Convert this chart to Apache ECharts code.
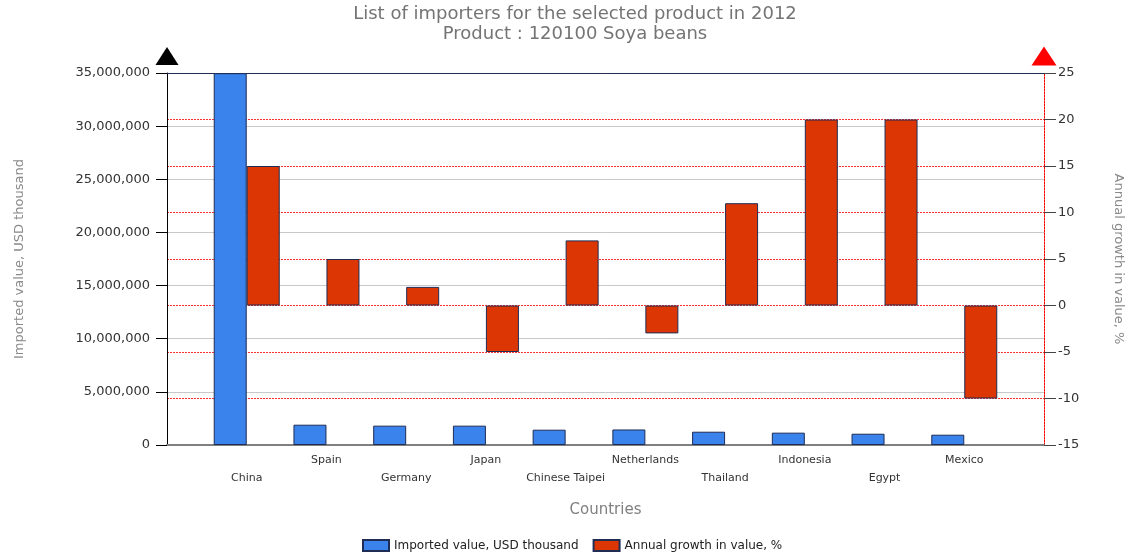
<!DOCTYPE html>
<html>
<head>
<meta charset="utf-8">
<title>Soya beans importers 2012</title>
<script src="https://cdn.jsdelivr.net/npm/echarts@6/dist/echarts.min.js"></script>
<style>
  html, body { margin: 0; padding: 0; background: #ffffff; }
  #chart { width: 1134px; height: 559px; }
</style>
</head>
<body>
<div id="chart"></div>
<script>
// Importing countries, 2012
const categories = ['China', 'Spain', 'Germany', 'Japan', 'Chinese Taipei', 'Netherlands', 'Thailand', 'Indonesia', 'Egypt', 'Mexico'];
// Imported value, USD thousand
const importedValue = [34983000, 1910000, 1820000, 1820000, 1440000, 1460000, 1250000, 1160000, 1060000, 970000];
// Annual growth in value, %
const annualGrowth = [15, 5, 2, -5, 7, -3, 11, 20, 20, -10];
// Axis ranges (left: value, right: growth)
const valueAxisRange = [0, 35000000, 5000000];
const growthAxisRange = [-15, 25, 5];

const FONT = 'DejaVu Sans';
const chart = echarts.init(document.getElementById('chart'), null, { renderer: 'canvas' });

chart.setOption({
  animation: false,
  backgroundColor: '#ffffff',
  title: {
    text: 'List of importers for the selected product in 2012\nProduct : 120100 Soya beans',
    left: 573,
    top: 2,
    textAlign: 'center',
    padding: 2,
    textStyle: { fontFamily: FONT, fontSize: 18, fontWeight: 'normal', color: '#747474', lineHeight: 20 }
  },
  legend: {
    left: 360,
    top: 537,
    padding: 2,
    icon: 'rect',
    itemWidth: 26,
    itemHeight: 11,
    itemGap: 14,
    textStyle: { fontFamily: FONT, fontSize: 12, color: '#222' },
    data: ['Imported value, USD thousand', 'Annual growth in value, %']
  },
  grid: { left: 167, right: 90, top: 73, bottom: 114, containLabel: false },
  xAxis: [
    {
      type: 'value',
      position: 'bottom',
      min: -1,
      max: categories.length,
      interval: 1,
      name: 'Countries',
      nameLocation: 'middle',
      nameGap: 58,
      nameTextStyle: { fontFamily: FONT, fontSize: 15, color: '#808080' },
      axisLine: { show: true, onZero: false, lineStyle: { color: '#808080', width: 2 } },
      axisTick: { show: false },
      splitLine: { show: false },
      axisLabel: {
        margin: 6,
        fontFamily: FONT,
        fontSize: 11,
        color: '#333',
        lineHeight: 18,
        showMinLabel: true,
        showMaxLabel: true,
        formatter: function (v) {
          const name = categories[v];
          if (name === undefined) return '';
          return v % 2 === 0 ? '\n' + name : name;
        }
      }
    },
    {
      type: 'value',
      position: 'top',
      min: -1,
      max: categories.length,
      interval: 1,
      axisLine: { show: true, onZero: false, lineStyle: { color: '#1f2d55', width: 1 } },
      axisTick: { show: false },
      axisLabel: { show: false },
      splitLine: { show: false }
    }
  ],
  yAxis: [
    {
      type: 'value',
      position: 'left',
      min: valueAxisRange[0],
      max: valueAxisRange[1],
      interval: valueAxisRange[2],
      name: 'Imported value, USD thousand',
      nameLocation: 'middle',
      nameGap: 141,
      nameTextStyle: { fontFamily: FONT, fontSize: 13, color: '#8a8a8a' },
      axisLine: {
        show: true,
        onZero: false,
        lineStyle: { color: '#000000', width: 1 },
        symbol: ['none', 'triangle'],
        symbolSize: [23, 18],
        symbolOffset: [0, 17]
      },
      axisTick: { show: true, length: 11, lineStyle: { color: '#000000' } },
      axisLabel: {
        margin: 17,
        fontFamily: FONT,
        fontSize: 13,
        color: '#333',
        formatter: function (v) { return v.toLocaleString('en-US'); }
      },
      splitLine: { show: true, lineStyle: { color: '#c8c8c8', width: 1 } }
    },
    {
      type: 'value',
      position: 'right',
      min: growthAxisRange[0],
      max: growthAxisRange[1],
      interval: growthAxisRange[2],
      name: 'Annual growth in value, %',
      nameLocation: 'middle',
      nameRotate: -90,
      nameGap: 68,
      nameTextStyle: { fontFamily: FONT, fontSize: 13, color: '#8a8a8a' },
      axisLine: {
        show: true,
        onZero: false,
        lineStyle: { color: '#ff0000', width: 1, type: [2, 1] },
        symbol: ['none', 'triangle'],
        symbolSize: [25, 19],
        symbolOffset: [0, 17]
      },
      axisTick: { show: true, length: 12, lineStyle: { color: '#444' } },
      axisLabel: {
        margin: 14,
        fontFamily: FONT,
        fontSize: 13,
        color: '#333'
      },
      splitLine: { show: true, lineStyle: { color: ['#ff3030'], width: 1, type: [2, 1], opacity: 1 } }
    }
  ],
  series: [
    {
      name: 'Imported value, USD thousand',
      type: 'bar',
      xAxisIndex: 0,
      yAxisIndex: 0,
      barWidth: 33,
      barGap: '0%',
      itemStyle: { color: '#3a82ec', borderColor: '#1f2d55', borderWidth: 1 },
      data: importedValue.map(function (v, i) { return [i, v]; })
    },
    {
      name: 'Annual growth in value, %',
      type: 'bar',
      xAxisIndex: 0,
      yAxisIndex: 1,
      barWidth: 33,
      barGap: '0%',
      itemStyle: { color: '#dc3604', borderColor: '#1f2d55', borderWidth: 1 },
      data: annualGrowth.map(function (v, i) { return [i, v]; })
    }
  ]
});
</script>
</body>
</html>
